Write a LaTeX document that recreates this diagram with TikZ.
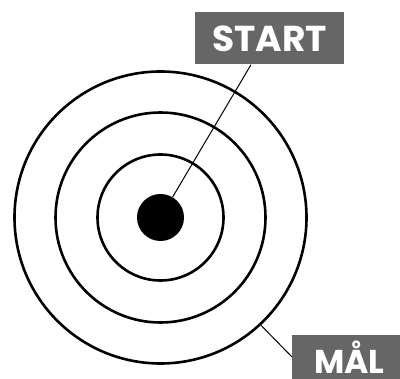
\documentclass[tikz,border=0pt]{standalone}
\usepackage{fontspec}
\setmainfont{Poppins}
\begin{document}
\begin{tikzpicture}[x=1pt,y=-1pt,
  ring/.style={draw=black,line width=2.6pt,fill=none},
  lbl/.style={fill=labelgray,text=white,inner sep=0pt,font=\fontsize{36}{40}\selectfont\bfseries},
  lead/.style={draw=black,line width=1pt}]
\definecolor{labelgray}{HTML}{666666}
\useasboundingbox (0,0) rectangle (400,379);
\node[ring,circle,minimum size=292pt,inner sep=0pt] (outer) at (160.5,217.5) {};
\node[ring,circle,minimum size=210pt,inner sep=0pt] (middle) at (160.5,217.5) {};
\node[ring,circle,minimum size=126pt,inner sep=0pt] (inner) at (160.5,217.5) {};
\node[circle,fill=black,minimum size=47pt,inner sep=0pt] (dot) at (160.5,217.5) {};
\node[lbl,minimum width=149pt,minimum height=52pt] (start) at (269.5,38.5) {START};
\node[lbl,font=\fontsize{33}{38}\selectfont\bfseries,anchor=west,minimum width=108pt,minimum height=44pt] (maal) at (292,357) {\hspace*{10pt}MÅL\hspace*{4pt}};
\coordinate (sfoot) at ([xshift=-18.5pt]start.south);
\draw[lead] (sfoot) -- (dot);
\draw[lead] (outer.-47) -- (maal.west);
\end{tikzpicture}
\end{document}
